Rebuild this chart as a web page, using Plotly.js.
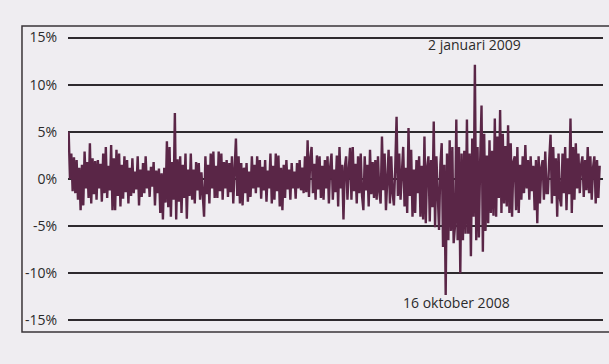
<!DOCTYPE html>
<html>
<head>
<meta charset="utf-8">
<script src="https://cdn.plot.ly/plotly-3.0.1.min.js"></script>
<style>
  html, body { margin: 0; padding: 0; background: #efedf1; }
  #chart { width: 609px; height: 364px; }
</style>
</head>
<body>
<div id="chart"></div>
<script>
// Daily returns (%) from left to right
const returns = [
  5.0,
  0, 2.7, -1.3, 2.3, -1.5, 2.0, -2.2, 1.2, -3.3, 1.5,
  -2.8, 2.9, -1.0, 1.8, -2.0, 3.8, -2.6, 2.2, -1.6, 1.9,
  -2.2, 2.0, -1.0, 1.6, -2.4, 2.7, -1.5, 3.4, -2.0, 1.4,
  -1.2, 3.6, -3.3, 2.2, -3.3, 3.1, -1.8, 2.7, -2.9, 1.5,
  -2.1, 2.4, -1.4, 2.0, -2.6, 1.2, -1.8, 2.2, -1.5, 0.8,
  -1.1, 2.4, -2.8, 1.0, -1.9, 1.7, -1.5, 2.4, -1.0, 0.9,
  -1.9, 1.3, -0.8, 1.8, -2.8, 0.9, -1.5, 1.1, -3.6, 0.6,
  -4.3, 1.2, -2.5, 4.0, -3.0, 3.4, -4.0, 1.8, -2.2, 7.0,
  -4.3, 2.1, -2.4, 2.4, -3.6, 1.5, -2.0, 2.7, -4.2, 1.0,
  -1.8, 2.7, -2.2, 1.0, -2.6, 1.8, -1.2, 1.7, -2.2, 0.7,
  -1.5, -4.0, 2.4, -1.6, 1.5, -2.6, 2.7, -1.0, 2.9, -2.0,
  1.4, -2.0, 2.9, -1.3, 2.7, -2.2, 1.8, -1.0, 2.0, -1.9,
  1.7, -1.4, 2.4, -2.6, 1.0, 4.3, -1.8, 2.4, -2.6, 1.7,
  -2.8, 1.2, -1.5, 1.7, -2.4, 0.8, -1.9, 2.4, -1.0, 1.5,
  -1.5, 2.4, -0.9, 2.0, -2.1, 1.3, -1.2, 2.0, -2.4, 0.9,
  -1.0, 2.7, -2.6, 1.4, -2.2, 2.7, -1.3, 2.5, -2.9, 1.2,
  -3.3, 1.5, -2.0, 2.0, -1.1, 1.0, -2.2, 1.7, -1.0, 0.8,
  -2.1, 1.7, -1.0, 2.0, -1.2, 1.2, -1.5, 2.4, -1.4, 4.1,
  -1.9, 2.2, 3.4, -1.5, 1.6, -2.2, 2.5, -1.1, 2.4, -2.0,
  1.4, -2.2, 2.0, -1.0, 2.4, -2.6, 1.3, 2.7, -2.2, 1.0,
  -1.4, 2.5, -2.9, 3.4, -1.0, 1.5, -4.3, 1.2, 2.4, -2.2,
  1.0, 3.3, -2.2, 3.4, -1.3, 1.6, -2.6, 2.4, -1.5, 2.7,
  -1.8, -3.3, 2.4, -1.2, 1.5, -2.9, 3.1, -1.6, 1.8, -2.0,
  2.0, -2.2, 2.4, -1.4, -2.6, 4.5, -1.2, 2.7, -3.3, 1.0,
  3.1, -2.6, 2.4, -1.5, -2.8, 1.2, 6.6, -1.8, 2.7, -2.2,
  1.5, 3.4, -2.9, 1.2, -3.6, 5.4, -1.8, 3.1, -4.0, 1.0,
  -3.6, 2.0, -1.5, 2.4, -4.0, 1.4, -4.3, 4.5, -4.7, 1.2,
  2.4, -4.5, 2.0, -3.0, 6.1, -5.1, 2.4, -2.5, -5.4, 1.5,
  3.8, -7.2, 1.5, -12.3, 2.7, -6.5, 4.1, -5.5, 3.4, -6.8,
  -5.0, 6.3, -6.5, 3.4, -10.0, 2.7, -6.5, 3.0, -5.8, 6.3,
  -5.8, 2.7, -8.2, 4.3, -4.0, 12.1, -6.5, 3.4, -6.2, 2.0,
  7.8, -7.7, 4.8, -5.5, 2.5, -4.7, 4.1, -3.6, 3.0, -3.9,
  6.4, -4.0, 4.5, -2.0, 7.3, -3.6, 4.8, -2.6, 3.5, -2.9,
  5.7, -3.6, 3.8, -4.0, 1.8, 2.4, -3.3, 3.4, -3.6, 1.5,
  -2.2, 2.4, -1.5, 3.6, -1.0, 2.0, -2.2, 2.4, -1.3, 1.4,
  -3.3, 2.0, -4.7, 2.4, -2.6, 1.2, 2.0, -2.2, 2.9, -1.5,
  -1.5, 2.0, 4.7, -2.6, 3.4, -1.8, 2.2, -4.0, 2.7, -2.0,
  -2.9, 2.7, -1.5, 3.4, -3.3, 2.2, -1.6, 6.4, -3.6, 3.4,
  -2.2, 3.8, -1.0, 2.7, -1.5, 1.5, 2.4, -1.9, 2.0, -1.2,
  3.4, -1.5, 2.4, -2.2, 1.2, 2.4, -2.6, 2.0, -2.0, 1.4
];

const yTickValues = [-15, -10, -5, 0, 5, 10, 15];
const yTickLabels = ['-15%', '-10%', '-5%', '0%', '5%', '10%', '15%'];

const peakLabel = '2 januari 2009';
const troughLabel = '16 oktober 2008';

const peakIndex = returns.indexOf(Math.max(...returns));
const troughIndex = returns.indexOf(Math.min(...returns));

const trace = {
  y: returns,
  type: 'scatter',
  mode: 'lines',
  line: { color: '#5a2647', width: 2.4 },
  hoverinfo: 'skip'
};

const textFont = { family: 'Open Sans, DejaVu Sans, sans-serif', size: 14, color: '#2b2b2b' };

const layout = {
  width: 609,
  height: 364,
  margin: { l: 68, r: 6, t: 26, b: 32 },
  paper_bgcolor: '#efedf1',
  plot_bgcolor: 'rgba(0,0,0,0)',
  showlegend: false,
  xaxis: {
    range: [-0.5, returns.length + 1.5],
    showgrid: false,
    zeroline: false,
    showticklabels: false,
    ticks: '',
    showline: false
  },
  yaxis: {
    range: [-16.22, 16.22],
    tickvals: yTickValues,
    ticktext: yTickLabels,
    ticks: 'outside',
    ticklen: 7,
    tickcolor: 'rgba(0,0,0,0)',
    showgrid: true,
    gridcolor: '#2e2a2e',
    gridwidth: 2,
    zeroline: false,
    showline: false,
    tickfont: textFont
  },
  shapes: [
    {
      type: 'rect', xref: 'paper', yref: 'paper',
      x0: -0.086, x1: 1.2, y0: 0, y1: 1,
      line: { color: '#3a3438', width: 1.5 },
      fillcolor: 'rgba(0,0,0,0)',
      layer: 'below'
    }
  ],
  annotations: [
    {
      x: peakIndex, y: 14.3, xref: 'x', yref: 'y',
      text: peakLabel, showarrow: false,
      font: textFont, xanchor: 'center', yanchor: 'middle'
    },
    {
      x: troughIndex, y: -13.1, xref: 'x', yref: 'y',
      text: troughLabel, showarrow: false, xshift: 11,
      font: textFont, xanchor: 'center', yanchor: 'middle'
    }
  ]
};

Plotly.newPlot('chart', [trace], layout, { staticPlot: true, displayModeBar: false });
</script>
</body>
</html>
